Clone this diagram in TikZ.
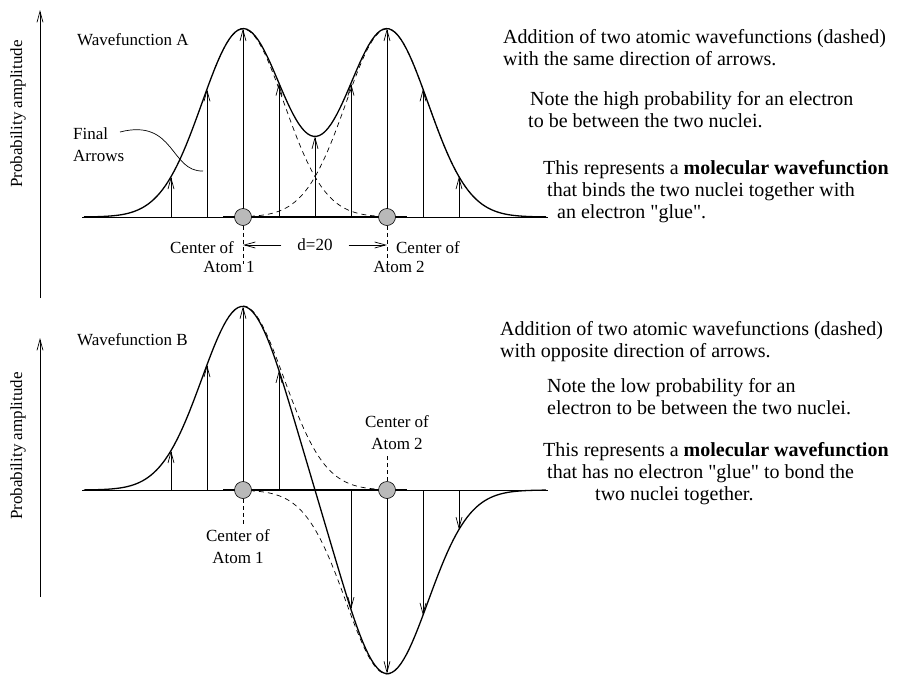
\documentclass[tikz,border=0pt]{standalone}
\usepackage{fontspec}
\setmainfont{Liberation Serif}[Ligatures=TeXOff]
\usetikzlibrary{arrows.meta}

\tikzset{
  lbl/.style={font=\fontsize{17}{22}\selectfont, inner sep=0pt},
  note/.style={font=\fontsize{20}{22}\selectfont, align=left, anchor=north west, inner sep=0pt},
  atom/.style={draw, circle, fill=gray!55, minimum size=17pt, inner sep=0pt, line width=0.6pt},
  amp/.style={-{Straight Barb[length=11pt,width=6pt]}, line width=0.7pt},
  wave/.style={line width=1.3pt},
  atomic/.style={dash pattern=on 5pt off 4pt, line width=0.7pt},
  guide/.style={dash pattern=on 4pt off 3pt, line width=0.7pt}
}

\begin{document}
\begin{tikzpicture}[x=1pt, y=-1pt,
  declare function={ga(\x)=exp(-((\x-243)/58)^2); gb(\x)=exp(-((\x-387)/58)^2);}]
  \useasboundingbox (0,0) rectangle (897,675);

  % ---- wavefunction A (same direction)
  \coordinate (ya0) at (40,298);
  \coordinate (ya1) at (40,10);
  \draw[amp] (ya0) -- (ya1);
  \node[lbl, rotate=90] (pa) at (18,114) {Probability amplitude};
  \node[lbl, anchor=west] (wa) at (77,40) {Wavefunction A};

  \coordinate (b0) at (82,217);
  \coordinate (b1) at (548,217);
  \draw[line width=0.7pt] (b0) -- (b1);
  \draw[line width=1.6pt] (223,217) -- (407,217);

  \foreach \k in {-2,...,6} {
    \pgfmathsetmacro\xa{243+36*\k}
    \coordinate (ua\k) at (\xa,217);
    \coordinate (ut\k) at (\xa,{217-188*(ga(\xa)+gb(\xa))});
    \draw[amp] (ua\k) -- (ut\k);
  }

  \draw[atomic] plot[domain=215:380, samples=80] (\x,{217-188*ga(\x)});
  \draw[atomic] plot[domain=250:470, samples=80] (\x,{217-188*gb(\x)});
  \draw[wave] plot[domain=84:546, samples=160] (\x,{217-188*(ga(\x)+gb(\x))});

  \node[atom] (n1) at (243,217) {};
  \node[atom] (n2) at (387,217) {};

  \coordinate (g1) at (243,245);
  \coordinate (g2) at (387,245);
  \coordinate (e1) at (243,264);
  \coordinate (e2) at (387,264);
  \draw[guide] (n1) -- (e1);
  \draw[guide] (n2) -- (e2);
  \node[lbl] (dd) at (315,245) {d=20};
  \draw[amp, shorten <=16pt] (dd) -- (g1);
  \draw[amp, shorten <=16pt] (dd) -- (g2);

  \node[lbl] (c1) at (202,248) {Center of};
  \node[lbl] (a1) at (229,267) {Atom 1};
  \node[lbl] (c2) at (428,248) {Center of};
  \node[lbl] (a2) at (399,267) {Atom 2};

  \node[lbl, anchor=west, align=left] (fa) at (73,145) {Final\\Arrows};
  \coordinate (fa1) at (120,132);
  \coordinate (fa2) at (203,171);
  \draw[line width=0.7pt] (fa1) .. controls (175,118) and (170,172) .. (fa2);

  \node[note] (t1) at (503,29) {Addition of two atomic wavefunctions (dashed)\\with the same direction of arrows.};
  \node[note] (t2) at (530,91) {Note the high probability for an electron\\\hspace*{-2pt}to be between the two nuclei.};
  \node[note] (t3) at (543,160) {This represents a \textbf{molecular wavefunction}\\\hspace*{4pt}that binds the two nuclei together with\\\hspace*{14pt}an electron "glue".};

  % ---- wavefunction B (opposite direction)
  \coordinate (yb0) at (40,597);
  \coordinate (yb1) at (40,338);
  \draw[amp] (yb0) -- (yb1);
  \node[lbl, rotate=90] (pb) at (18,446) {Probability amplitude};
  \node[lbl, anchor=west] (wb) at (77,340) {Wavefunction B};

  \coordinate (b2) at (82,490);
  \coordinate (b3) at (548,490);
  \draw[line width=0.7pt] (b2) -- (b3);
  \draw[line width=1.6pt] (223,490) -- (407,490);

  \foreach \k in {-2,-1,0,1,3,4,5,6} {
    \pgfmathsetmacro\xa{243+36*\k}
    \coordinate (va\k) at (\xa,490);
    \coordinate (vt\k) at (\xa,{490-184*(ga(\xa)-gb(\xa))});
    \draw[amp] (va\k) -- (vt\k);
  }

  \draw[atomic] plot[domain=243:380, samples=80] (\x,{490-184*ga(\x)});
  \draw[atomic] plot[domain=250:392, samples=80] (\x,{490+184*gb(\x)});
  \draw[wave] plot[domain=84:546, samples=160] (\x,{490-184*(ga(\x)-gb(\x))});

  \node[atom] (n3) at (243,490) {};
  \node[atom] (n4) at (387,490) {};

  \coordinate (e3) at (243,525);
  \coordinate (e4) at (387,455);
  \draw[guide] (n3) -- (e3);
  \draw[guide] (n4) -- (e4);
  \node[lbl, align=center] (cb1) at (238,547) {Center of\\Atom 1};
  \node[lbl, align=center] (cb2) at (397,433) {Center of\\Atom 2};

  \node[note] (s1) at (500,321) {Addition of two atomic wavefunctions (dashed)\\with opposite direction of arrows.};
  \node[note] (s2) at (547,378) {Note the low probability for an\\electron to be between the two nuclei.};
  \node[note] (s3) at (543,442) {This represents a \textbf{molecular wavefunction}\\\hspace*{4pt}that has no electron "glue" to bond the\\\hspace*{52pt}two nuclei together.};
\end{tikzpicture}
\end{document}
